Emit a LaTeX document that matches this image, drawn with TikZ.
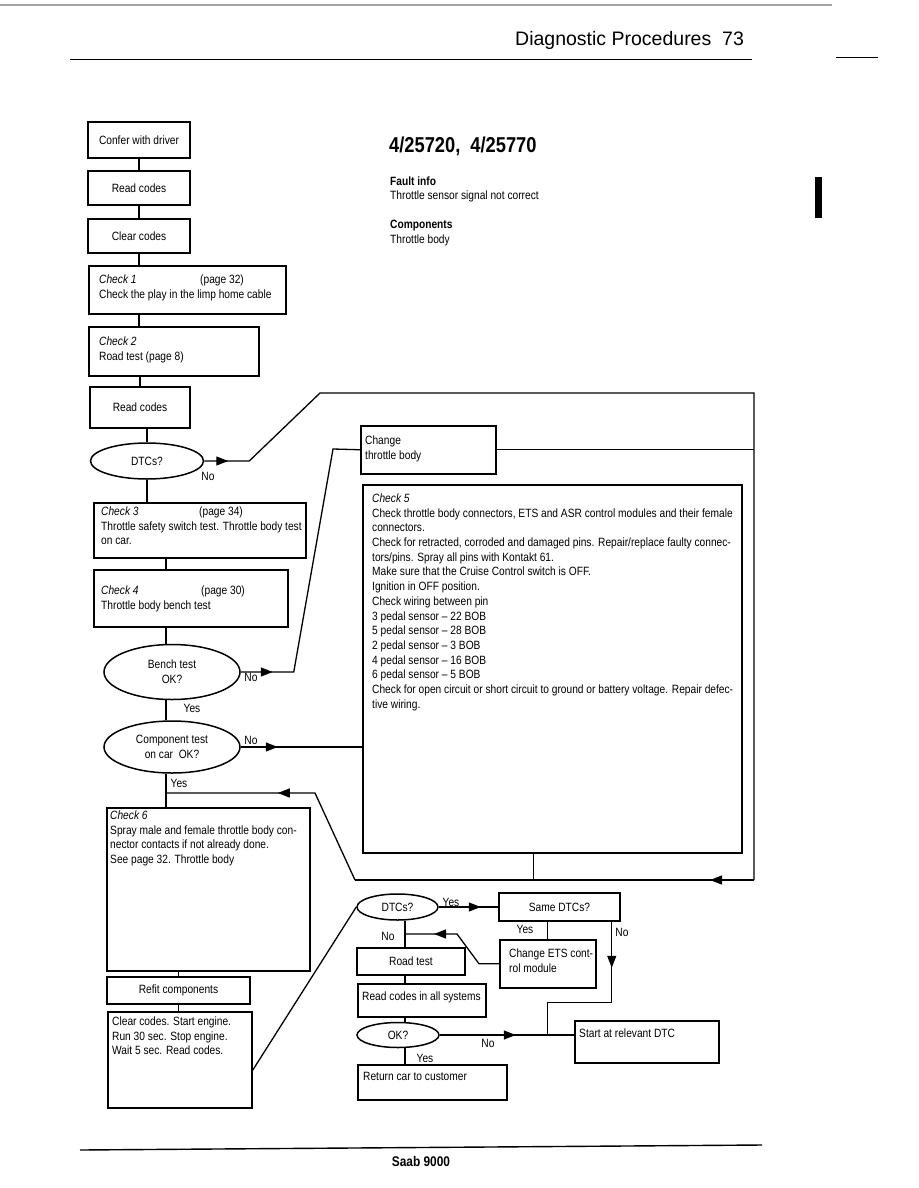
\documentclass[tikz,border=0pt]{standalone}
\usepackage{fontspec}
\setmainfont{Liberation Sans}[FakeStretch=0.85]
\newfontfamily\headfont{Liberation Sans}
\usetikzlibrary{arrows.meta,calc,shapes.geometric,decorations.markings}
\setlength{\parindent}{0pt}

\begin{document}
\begin{tikzpicture}[
  x=1pt, y=-1pt,
  frame/.style={draw,line width=1.5pt,anchor=north west,inner sep=0pt},
  cbox/.style={draw,line width=1.5pt,align=center,inner sep=0pt,
               font=\fontsize{12}{14.7}\selectfont},
  txt/.style 2 args={anchor=north west,align=left,inner xsep=#1,inner ysep=#2,
               font=\fontsize{12}{14.7}\selectfont},
  query/.style={draw,ellipse,line width=1.5pt,inner sep=0pt,align=center,
               font=\fontsize{12}{14.7}\selectfont},
  lbl/.style={inner sep=0pt,font=\fontsize{12}{14.7}\selectfont},
  wire/.style={line width=1.3pt},
  arrowat/.style={postaction={decorate},decoration={markings,
               mark=at position #1 with {\arrow{Triangle[length=12pt,width=9pt]}}}}
]
\useasboundingbox (0,0) rectangle (918,1188);

% page head
\draw[line width=1.2pt,black!35] (0,5) -- (832,5);
\node[anchor=base west,inner sep=0pt,font=\headfont\fontsize{19.5}{22}\selectfont] (pagehead) at (515,46) {Diagnostic Procedures\ \ 73};
\draw[line width=1.6pt] (70,59.5) -- (752,59.5);
\draw[line width=1.6pt] (836,57.5) -- (878,57.5);
\fill (815,177) rectangle (822,218);

\node[anchor=base west,inner sep=0pt,font=\bfseries\fontsize{21.5}{24}\selectfont] (dtccode) at (389,152) {4/25720,\ \ 4/25770};
\node[anchor=base west,inner sep=0pt,font=\bfseries\fontsize{12}{14.7}\selectfont] (faulthd) at (390,185) {Fault info};
\node[anchor=base west,inner sep=0pt,font=\fontsize{12}{14.7}\selectfont] (faulttx) at (390,199) {Throttle sensor signal not correct};
\node[anchor=base west,inner sep=0pt,font=\bfseries\fontsize{12}{14.7}\selectfont] (comphd) at (390,228.5) {Components};
\node[anchor=base west,inner sep=0pt,font=\fontsize{12}{14.7}\selectfont] (comptx) at (390,243) {Throttle body};

% left column
\node[cbox,minimum width=102pt,minimum height=36pt] (confer) at (139,140) {Confer with driver};
\node[cbox,minimum width=102pt,minimum height=34pt] (read1) at (139,188) {Read codes};
\node[cbox,minimum width=102pt,minimum height=34pt] (clear1) at (139,236) {Clear codes};
\node[frame,minimum width=197pt,minimum height=48pt,
      label={[txt={11pt}{9.5pt}]north west:{\rlap{\textit{Check 1}}\hspace{101pt}(page 32)\\Check the play in the limp home cable}}] (chk1) at (88,265) {};
\node[frame,minimum width=170pt,minimum height=49pt,
      label={[txt={11pt}{10.5pt}]north west:{\textit{Check 2}\\Road test (page 8)}}] (chk2) at (88,326) {};
\node[cbox,minimum width=100pt,minimum height=41pt] (read2) at (140,407.5) {Read codes};
\node[query,minimum width=113pt,minimum height=36pt] (dtc1) at (147,461) {DTCs?};
\node[frame,minimum width=212pt,minimum height=55pt,
      label={[txt={8pt}{4.5pt}]north west:{\rlap{\textit{Check 3}}\hspace{98pt}(page 34)\\Throttle safety switch test. Throttle body test\\on car.}}] (chk3) at (93,502) {};
\node[frame,minimum width=194pt,minimum height=57pt,
      label={[txt={8pt}{16.5pt}]north west:{\rlap{\textit{Check 4}}\hspace{100pt}(page 30)\\Throttle body bench test}}] (chk4) at (93,569) {};
\node[query,minimum width=136pt,minimum height=55pt] (bench) at (172,672) {Bench test\\OK?};
\node[query,minimum width=136pt,minimum height=52pt] (comp) at (172,747) {Component test\\on car\ \ OK?};
\node[frame,minimum width=203pt,minimum height=163pt,
      label={[txt={4pt}{3.5pt}]north west:{\textit{Check 6}\\Spray male and female throttle body con-\\nector contacts if not already done.\\See page 32. Throttle body}}] (chk6) at (106,807) {};
\node[cbox,minimum width=143pt,minimum height=27pt] (refit) at (178.5,990.5) {Refit components};
\node[frame,minimum width=144pt,minimum height=96pt,
      label={[txt={5pt}{5.5pt}]north west:{Clear codes. Start engine.\\Run 30 sec. Stop engine.\\Wait 5 sec. Read codes.}}] (clear2) at (107,1011) {};

% right side
\node[frame,minimum width=135pt,minimum height=48pt,
      label={[txt={5pt}{10.5pt}]north west:{Change\\throttle body}}] (chg) at (360,425) {};
\node[frame,minimum width=379pt,minimum height=368pt,
      label={[txt={10pt}{9.5pt}]north west:{\textit{Check 5}\\
        Check throttle body connectors, ETS and ASR control modules and their female\\
        connectors.\\
        Check for retracted, corroded and damaged pins. Repair/replace faulty connec-\\
        tors/pins. Spray all pins with Kontakt 61.\\
        Make sure that the Cruise Control switch is OFF.\\
        Ignition in OFF position.\\
        Check wiring between pin\\
        3 pedal sensor – 22 BOB\\
        5 pedal sensor – 28 BOB\\
        2 pedal sensor – 3 BOB\\
        4 pedal sensor – 16 BOB\\
        6 pedal sensor – 5 BOB\\
        Check for open circuit or short circuit to ground or battery voltage. Repair defec-\\
        tive wiring.}}] (chk5) at (362,484) {};
\node[query,minimum width=81pt,minimum height=26pt] (dtc2) at (397.5,907) {DTCs?};
\node[cbox,minimum width=121pt,minimum height=28pt] (same) at (559.5,907) {Same DTCs?};
\node[frame,minimum width=96pt,minimum height=48pt,
      label={[txt={10pt}{9.5pt}]north west:{Change ETS cont-\\rol module}}] (ets) at (499,939) {};
\node[cbox,minimum width=108pt,minimum height=27pt] (road) at (411,961.5) {Road test};
\node[frame,minimum width=128pt,minimum height=33pt,
      label={[txt={5pt}{8.5pt}]north west:{Read codes in all systems}}] (readall) at (357,983) {};
\node[query,minimum width=82pt,minimum height=25pt] (okq) at (398,1035) {OK?};
\node[frame,minimum width=144pt,minimum height=42pt,
      label={[txt={5pt}{8.5pt}]north west:{Start at relevant DTC}}] (start) at (574,1020) {};
\node[frame,minimum width=149pt,minimum height=35pt,
      label={[txt={6pt}{8.5pt}]north west:{Return car to customer}}] (ret) at (357,1064) {};

\coordinate (topL) at (320,393);
\coordinate (topR) at (754,393);
\coordinate (botR) at (754,880);
\coordinate (botL) at (355,880);
\coordinate (kink6) at (315,793);
\coordinate (spine) at (166,793);
\coordinate (bend5) at (333,449);
\coordinate (dspine) at (405,934);
\coordinate (kinkE) at (457,934);
\coordinate (c5out) at ($(chk5.south west)!0.45!(chk5.south east)$);
\coordinate (joinS) at (ets.south |- okq.east);

% main column
\draw[wire] (confer) -- (read1);
\draw[wire] (read1) -- (clear1);
\draw[wire] (clear1.south) -- (clear1.south |- chk1.north);
\draw[wire] (chk1.south -| clear1.south) -- (chk2.north -| clear1.south);
\draw[wire] (read2.north |- chk2.south) -- (read2.north);
\draw[wire] (dtc1.north |- read2.south) -- (dtc1.north);
\draw[wire] (dtc1.south) -- (dtc1.south |- chk3.north);
\draw[wire] (chk3.south -| spine) -- (chk4.north -| spine);
\draw[wire] (chk4.south -| spine) -- (bench.north -| spine);
\draw[wire] (bench.south -| spine) -- (comp.north -| spine);
\draw[wire] (comp.south -| spine) -- (chk6.north -| spine);
\draw[wire] (refit.north |- chk6.south) -- (refit.north);
\draw[wire] (refit.south) -- (refit.south |- clear2.north);
\draw[wire] ($(clear2.north east)!0.61!(clear2.south east)$) -- (dtc2.west);

% loops round check 5
\draw[wire,arrowat=24pt] (dtc1.east) -- ++(45,0) -- (topL) -- (topR) -- (botR);
\draw[wire] (chg.east) -- (chg.east -| topR);
\draw[wire] (c5out) -- (c5out |- botR);
\draw[wire,arrowat=44pt] (botR) -- (botL);
\draw[wire,arrowat=133pt] (botL) -- (kink6) -- (spine);
\draw[wire,arrowat=32pt] (bench.east) -- ++(53,0) -- (bend5) -- (chg.west);
\draw[wire,arrowat=37pt] (comp.east) -- (comp.east -| chk5.west);

% final checks
\draw[wire,arrowat=42pt] (dtc2.east) -- (same.west);
\draw[wire] (ets.north |- same.south) -- (ets.north);
\draw[wire,arrowat=80pt] (ets.west) -- ++(-20,0) -- (kinkE) -- (dspine);
\draw[wire] (dtc2.south -| dspine) -- (road.north -| dspine);
\draw[wire] (road.south -| dspine) -- (readall.north -| dspine);
\draw[wire] (readall.south -| dspine) -- (okq.north -| dspine);
\draw[wire] (okq.south -| dspine) -- (ret.north -| dspine);
\draw[wire,arrowat=76pt] (okq.east) -- (start.west |- okq.east);
\draw[wire,arrowat=46pt] ([xshift=-9pt]same.south east) -- ++(0,81) -| (joinS);

\node[lbl] (no1) at (208,476) {No};
\node[lbl] (no2) at (251,677) {No};
\node[lbl] (yes2) at (192,708.5) {Yes};
\node[lbl] (no3) at (251,740) {No};
\node[lbl] (yes3) at (179,783.5) {Yes};
\node[lbl] (yes4) at (451,902.5) {Yes};
\node[lbl] (no4) at (388,936) {No};
\node[lbl] (yes5) at (525,929.5) {Yes};
\node[lbl] (no5) at (622,932) {No};
\node[lbl] (no6) at (488,1043) {No};
\node[lbl] (yes6) at (425,1058.5) {Yes};

% page foot
\draw[line width=1.4pt] (80,1150) -- (762,1145);
\node[inner sep=0pt,font=\bfseries\fontsize{14}{16}\selectfont] (saab) at (421,1161) {Saab 9000};
\end{tikzpicture}
\end{document}
